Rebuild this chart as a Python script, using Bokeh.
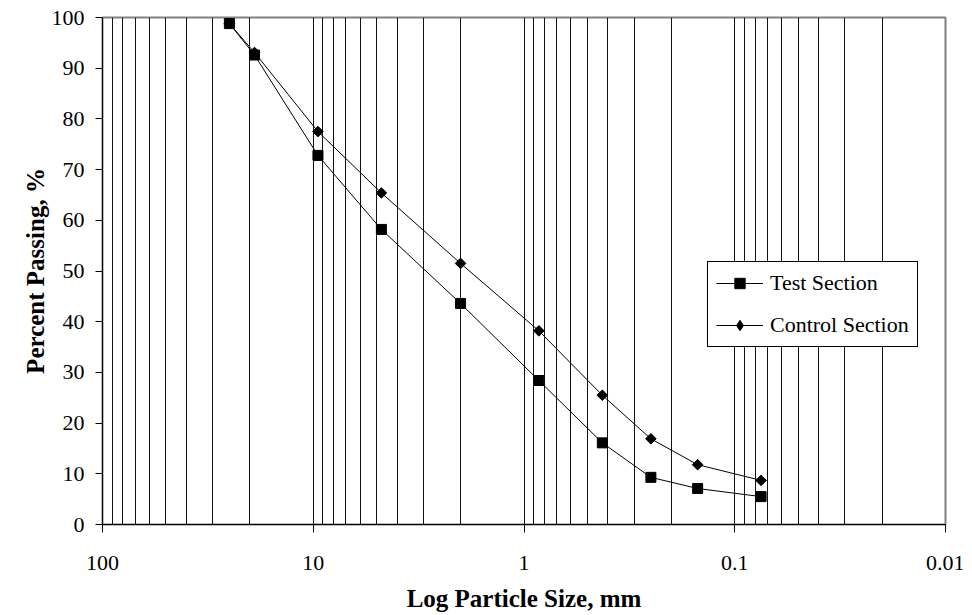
from bokeh.plotting import figure
from bokeh.models import Range1d, FixedTicker, CustomJSTickFormatter, Legend, LegendItem
from bokeh.embed import file_html
from bokeh.resources import INLINE
import math

# ---- data ----
sieve_mm = [25, 19, 9.5, 4.75, 2.0, 0.85, 0.425, 0.25, 0.15, 0.075]
test_pct = [98.8, 92.6, 72.8, 58.2, 43.6, 28.4, 16.1, 9.3, 7.1, 5.5]
control_pct = [98.8, 93.1, 77.5, 65.4, 51.5, 38.2, 25.5, 16.9, 11.8, 8.7]

x_major_ticks = [100, 10, 1, 0.1, 0.01]
y_ticks = [0, 10, 20, 30, 40, 50, 60, 70, 80, 90, 100]
decade_exponents = [-2, -1, 0, 1]
grid_multipliers = [1, 2, 3, 4, 5, 6, 7, 8, 9]

grid_ticks = [m * 10 ** e for e in decade_exponents for m in grid_multipliers] + [100]

SERIF = "Liberation Serif"

p = figure(
    frame_width=843, frame_height=507,
    x_axis_type="log",
    x_range=Range1d(100, 0.01), y_range=Range1d(0, 100),
    output_backend="svg", toolbar_location=None,
    min_border_left=102, min_border_right=19, min_border_top=17, min_border_bottom=84,
    background_fill_color="white", border_fill_color="white",
)

p.outline_line_color = "#808080"
p.outline_line_width = 2

# grids
p.xgrid.ticker = FixedTicker(ticks=grid_ticks)
p.xgrid.grid_line_color = "#111111"
p.xgrid.grid_line_width = 1
p.ygrid.grid_line_color = None

# x axis
p.xaxis.ticker = FixedTicker(ticks=x_major_ticks, minor_ticks=[])
p.xaxis.formatter = CustomJSTickFormatter(code="return String(Number(tick.toPrecision(6)));")
p.xaxis.major_tick_out = 8
p.xaxis.major_tick_in = 0
p.xaxis.minor_tick_out = 0
p.xaxis.minor_tick_in = 0
p.xaxis.major_label_standoff = 23
p.xaxis.axis_label = "Log Particle Size, mm"
p.xaxis.axis_label_standoff = 12

# y axis
p.yaxis.ticker = FixedTicker(ticks=y_ticks, minor_ticks=[])
p.yaxis.major_tick_out = 7
p.yaxis.major_tick_in = 0
p.yaxis.minor_tick_out = 0
p.yaxis.minor_tick_in = 0
p.yaxis.major_label_standoff = 11
p.yaxis.axis_label = "Percent Passing, %"
p.yaxis.axis_label_standoff = 0

for ax in (p.xaxis[0], p.yaxis[0]):
    ax.axis_line_color = "black"
    ax.axis_line_width = 1
    ax.major_tick_line_color = "black"
    ax.major_label_text_font = SERIF
    ax.major_label_text_font_size = "22px"
    ax.major_label_text_color = "black"
    ax.axis_label_text_font = SERIF
    ax.axis_label_text_font_size = "25px"
    ax.axis_label_text_font_style = "bold"
    ax.axis_label_text_color = "black"

# series
l1 = p.line(sieve_mm, test_pct, line_color="black", line_width=1)
s1 = p.scatter(sieve_mm, test_pct, marker="square", size=10, fill_color="black", line_color="black")
l2 = p.line(sieve_mm, control_pct, line_color="black", line_width=1)
s2 = p.scatter(sieve_mm, control_pct, marker="square", angle=math.pi / 4, size=7.5, fill_color="black", line_color="black")
# legend-only symbols (a single NaN point each, never drawn in the plot)
s1_key = p.scatter(x=[float("nan")], y=[float("nan")], marker="square", size=8,
                   fill_color="black", line_color="black")
s2_key = p.scatter(x=[float("nan")], y=[float("nan")], marker="diamond", size=12,
                   fill_color="black", line_color="black")

legend = Legend(
    items=[LegendItem(label="Test Section", renderers=[l1, s1_key]),
           LegendItem(label="Control Section", renderers=[l2, s2_key])],
    location=(605, 177),
    border_line_color="black", border_line_width=1, border_line_alpha=1,
    background_fill_color="white", background_fill_alpha=1,
    padding=8, spacing=16, margin=0,
    label_height=26, glyph_height=26, glyph_width=47, label_standoff=7,
    label_text_font=SERIF, label_text_font_size="22px", label_text_color="black",
)
p.add_layout(legend, "center")

open("out.html", "w").write(file_html(p, INLINE))
